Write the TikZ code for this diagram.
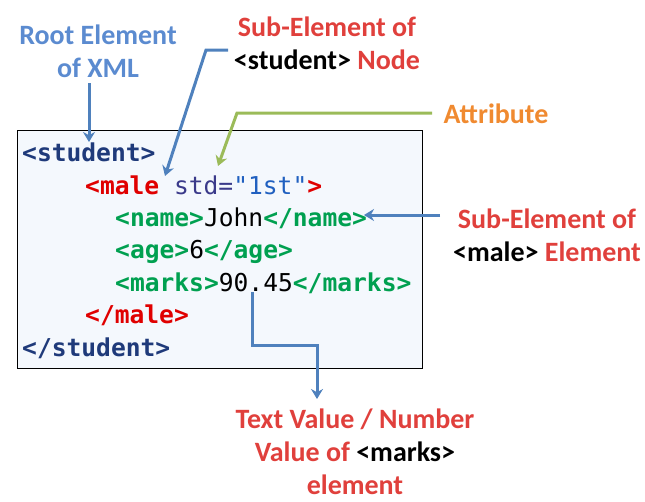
\documentclass[tikz,border=0pt]{standalone}
\usepackage{fontspec}
\setmainfont{Carlito}
\setmonofont{DejaVu Sans Mono}
\usetikzlibrary{arrows.meta}
\definecolor{lblred}{HTML}{E0403C}
\definecolor{lblblue}{HTML}{5B8BD0}
\definecolor{lblorange}{HTML}{F08A30}
\definecolor{arrblue}{HTML}{4F81BD}
\definecolor{arrgreen}{HTML}{9BBB59}
\definecolor{navy}{HTML}{1F3A7A}
\definecolor{tagred}{HTML}{E00000}
\definecolor{taggreen}{HTML}{00A050}
\definecolor{attrc}{HTML}{3A3A8A}
\definecolor{valc}{HTML}{2060C0}
\definecolor{boxbg}{HTML}{F4F8FD}
\tikzset{
  lbl/.style={font=\fontsize{28}{33}\selectfont\bfseries, inner sep=0pt, align=center},
  code/.style={font=\ttfamily\fontsize{24.6}{26}\selectfont, anchor=base west, inner sep=0pt},
  conn/.style={draw=arrblue, line width=3pt, -{Stealth[length=10pt,width=12pt]}},
  gconn/.style={draw=arrgreen, line width=3pt, -{Stealth[length=10pt,width=12pt]}}
}
\begin{document}
\begin{tikzpicture}[x=1pt,y=-1pt]
\useasboundingbox (0,0) rectangle (645,501);
\draw[fill=boxbg, line width=1pt] (17,130) rectangle (422,368);
% code
\node[code] (l1) at (22,161) {\textbf{\color{navy}<student>}};
\node[code] (l2) at (85,194) {\textbf{\color{tagred}<male}\color{attrc}\ std=\color{valc}"1st"\textbf{\color{tagred}>}};
\node[code] (l3) at (115,226) {\textbf{\color{taggreen}<name>}John\textbf{\color{taggreen}</name>}};
\node[code] (l4) at (115,258) {\textbf{\color{taggreen}<age>}6\textbf{\color{taggreen}</age>}};
\node[code] (l5) at (115,291) {\textbf{\color{taggreen}<marks>}90.45\textbf{\color{taggreen}</marks>}};
\node[code] (l6) at (85,323) {\textbf{\color{tagred}</male>}};
\node[code] (l7) at (22,356) {\textbf{\color{navy}</student>}};
% labels
\node[lbl, text=lblblue] (root) at (98,51) {Root Element\\of XML};
\node[lbl] (sub1) at (327,43) {\color{lblred}Sub-Element of\\\color{black}<student> \color{lblred}Node};
\node[lbl, text=lblorange] (attr) at (496,114) {Attribute};
\node[lbl] (sub2) at (547,235) {\color{lblred}Sub-Element of\\\color{black}<male> \color{lblred}Element};
\node[lbl] (txt) at (355,452) {\color{lblred}Text Value / Number\\\color{lblred}Value of \color{black}<marks>\\\color{lblred}element};
% connector points
\coordinate (r1) at (89,83);
\coordinate (r2) at (89,142);
\coordinate (s1) at (228,50);
\coordinate (s2) at (206,50);
\coordinate (s3) at (165,176);
\coordinate (a1) at (432,113);
\coordinate (a2) at (237,113);
\coordinate (a3) at (218,166);
\coordinate (m1) at (440,215);
\coordinate (m2) at (364,215);
\coordinate (k1) at (252,292);
\coordinate (k2) at (252,345);
\coordinate (k3) at (317,345);
\coordinate (k4) at (317,399);
\draw[conn] (r1) -- (r2);
\draw[conn] (s1) -- (s2) -- (s3);
\draw[gconn] (a1) -- (a2) -- (a3);
\draw[conn] (m1) -- (m2);
\draw[conn] (k1) -- (k2) -- (k3) -- (k4);
\end{tikzpicture}
\end{document}
